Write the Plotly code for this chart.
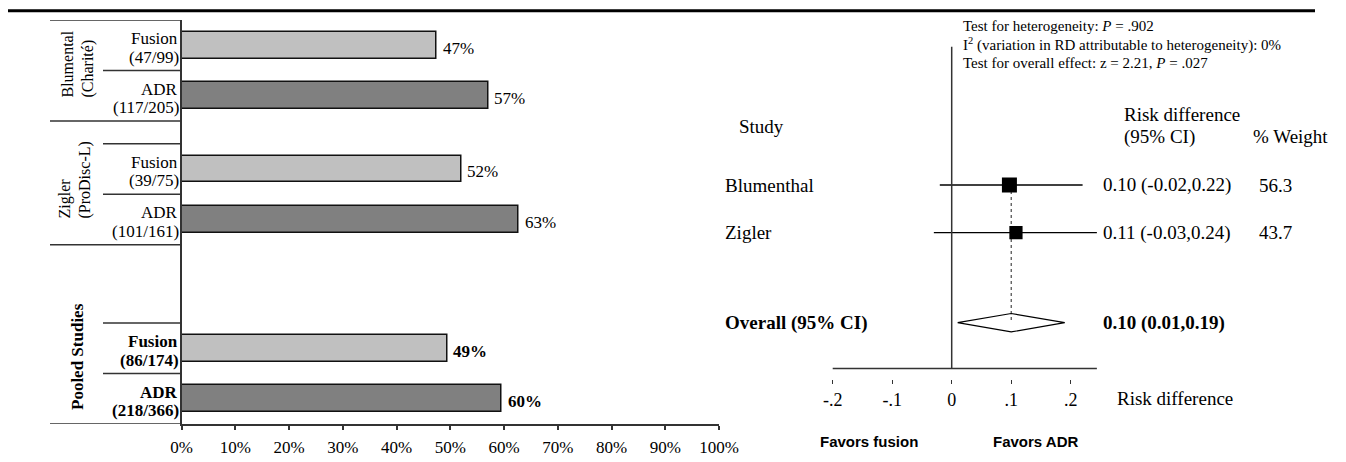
import plotly.graph_objects as go

# --------------------------------------------
# Data
# --------------------------------------------

# left panel: success rate per arm
arm_names = ["Fusion", "ADR", "Fusion", "ADR", "Fusion", "ADR"]
arm_counts = ["(47/99)", "(117/205)", "(39/75)", "(101/161)", "(86/174)", "(218/366)"]
arm_pct = [47.5, 57.1, 52.0, 62.7, 49.4, 59.6]
arm_pct_labels = ["47%", "57%", "52%", "63%", "49%", "60%"]
arm_pooled = [False, False, False, False, True, True]
pct_ticks = [0, 10, 20, 30, 40, 50, 60, 70, 80, 90, 100]
pct_tick_labels = ["0%", "10%", "20%", "30%", "40%", "50%", "60%", "70%", "80%", "90%", "100%"]

# right panel: forest plot
studies = ["Blumenthal", "Zigler"]
rd_est = [0.097, 0.108]
rd_lo = [-0.02, -0.03]
rd_hi = [0.22, 0.244]
rd_text = ["0.10 (-0.02,0.22)", "0.11 (-0.03,0.24)"]
weights = [56.3, 43.7]
weight_text = ["56.3", "43.7"]
overall_est = 0.10
overall_lo = 0.01
overall_hi = 0.19
overall_text = "0.10 (0.01,0.19)"
rd_ticks = [-0.2, -0.1, 0, 0.1, 0.2]
rd_tick_labels = ["-.2", "-.1", "0", ".1", ".2"]

# --------------------------------------------
# Layout helpers
# --------------------------------------------

W, H = 1346, 462
OFF = 8  # page body margin, the figure sits 8px in from the corner
SERIF = "Liberation Serif"
SANS = "Liberation Sans"
LINE = "#333333"


def px(x):
    # page pixel -> paper x
    return (x - OFF) / W


def py(y):
    # page pixel -> paper y
    return 1 - (y - OFF) / H


# slot positions on the left (reversed numeric axis, ~50 px per unit)
bar_pos = [0.5, 1.5, 2.95, 3.95, 6.5, 7.5]
dividers = [(0, 50), (1, 103), (2, 50), (2.45, 103), (3.45, 103),
            (4.45, 50), (6, 103), (7, 103), (8, 50)]

# forest rows (47.7 px per unit, row 1 at page y=185)
study_rows = [1, 2]
overall_row = 3.887
axis_row = 4.847
zero_top_row = -1.9
diamond_half = 0.193


def row_of(pix):
    return 1 + (pix - 185) / 47.7


fig = go.Figure()

# --------------------------------------------
# Left: bar chart
# --------------------------------------------

fig.add_trace(go.Bar(
    x=arm_pct,
    y=bar_pos,
    orientation="h",
    width=0.53,
    marker=dict(
        color=["#c0c0c0" if n == "Fusion" else "#808080" for n in arm_names],
        line=dict(color="#111111", width=1.5),
    ),
    xaxis="x", yaxis="y",
    hoverinfo="skip",
))

annotations = []
lab_font = dict(family=SERIF, size=17, color="black")
grp_font = dict(family=SERIF, size=16, color="black")
for name, cnt, pos, val, lab, bold in zip(arm_names, arm_counts, bar_pos,
                                          arm_pct, arm_pct_labels, arm_pooled):
    wrap = (lambda s: f"<b>{s}</b>") if bold else (lambda s: s)
    annotations.append(dict(x=px(180), xref="paper", y=pos - 0.13, yref="y",
                            text=wrap(name), xanchor="right", yanchor="middle",
                            showarrow=False, font=lab_font))
    annotations.append(dict(x=px(181), xref="paper", y=pos + 0.235, yref="y",
                            text=wrap(cnt), xanchor="right", yanchor="middle",
                            showarrow=False, font=lab_font))
    annotations.append(dict(x=val, xref="x", y=pos, yref="y", text=wrap(lab),
                            xanchor="left", yanchor="middle", xshift=4, yshift=-3,
                            showarrow=False, font=lab_font))

# group labels (rotated)
annotations.append(dict(x=px(78), y=py(100), xref="paper", yref="paper",
                        text="Blumental<br>(Charité)", textangle=-90, align="left",
                        xanchor="center", yanchor="bottom", showarrow=False, font=grp_font))
annotations.append(dict(x=px(75), y=py(221), xref="paper", yref="paper",
                        text="Zigler<br>(ProDisc-L)", textangle=-90, align="left",
                        xanchor="center", yanchor="bottom", showarrow=False, font=grp_font))
annotations.append(dict(x=px(77), y=py(357), xref="paper", yref="paper",
                        text="<b>Pooled Studies</b>", textangle=-90,
                        xanchor="center", yanchor="middle", showarrow=False, font=lab_font))

shapes = []
for ypos, x_start in dividers:
    shapes.append(dict(type="line", xref="paper", yref="y",
                       x0=px(x_start), x1=px(181.5), y0=ypos, y1=ypos,
                       line=dict(color=LINE, width=1.5)))

# top rule
shapes.append(dict(type="line", xref="paper", yref="paper",
                   x0=px(8), x1=px(1315), y0=py(10.7), y1=py(10.7),
                   line=dict(color="black", width=3)))

# --------------------------------------------
# Right: forest plot
# --------------------------------------------

# dotted line at pooled estimate
fig.add_trace(go.Scatter(
    x=[overall_est, overall_est], y=[study_rows[0], overall_row],
    mode="lines", line=dict(color="#222222", width=1, dash="dot"),
    xaxis="x2", yaxis="y2", hoverinfo="skip",
))

for lo, hi, row in zip(rd_lo, rd_hi, study_rows):
    fig.add_trace(go.Scatter(
        x=[lo, hi], y=[row, row], mode="lines",
        line=dict(color="black", width=1.3),
        xaxis="x2", yaxis="y2", hoverinfo="skip",
    ))

fig.add_trace(go.Scatter(
    x=rd_est, y=study_rows, mode="markers",
    marker=dict(symbol="square", color="black", opacity=1,
                size=[2 * w ** 0.5 for w in weights], line=dict(width=0)),
    xaxis="x2", yaxis="y2", hoverinfo="skip",
))

fig.add_trace(go.Scatter(
    x=[overall_lo, overall_est, overall_hi, overall_est, overall_lo],
    y=[overall_row, overall_row - diamond_half, overall_row,
       overall_row + diamond_half, overall_row],
    mode="lines", fill="toself", fillcolor="rgba(255,255,255,0)",
    line=dict(color="black", width=1.2),
    xaxis="x2", yaxis="y2", hoverinfo="skip",
))

# zero line and axis line
shapes.append(dict(type="line", xref="x2", yref="y2", x0=0, x1=0,
                   y0=zero_top_row, y1=axis_row, line=dict(color=LINE, width=1.5)))
shapes.append(dict(type="line", xref="x2", yref="y2", x0=rd_ticks[0], x1=max(rd_hi),
                   y0=axis_row, y1=axis_row, line=dict(color=LINE, width=1.5)))

hdr_font = dict(family=SERIF, size=15, color="black")
txt_font = dict(family=SERIF, size=19, color="black")
for text, yy in [("Test for heterogeneity: <i>P</i> = .902", 25.7),
                 ("I<sup>2</sup> (variation in RD attributable to heterogeneity): 0%", 44.3),
                 ("Test for overall effect: z = 2.21, <i>P</i> = .027", 62.7)]:
    annotations.append(dict(x=px(961), y=py(yy), xref="paper", yref="paper", text=text,
                            xanchor="left", yanchor="middle", showarrow=False, font=hdr_font))

for text, xx, yy in [("Study", 736.7, 126), ("Risk difference", 1121.7, 114),
                     ("(95% CI)", 1121.7, 136.7), ("% Weight", 1250.7, 136.7),
                     ("Risk difference", 1115, 398)]:
    annotations.append(dict(x=px(xx), y=py(yy), xref="paper", yref="paper", text=text,
                            xanchor="left", yanchor="middle", showarrow=False, font=txt_font))

for name, ci, wt, row in zip(studies, rd_text, weight_text, study_rows):
    for text, xx in [(name, 723), (ci, 1100.5), (wt, 1256.7)]:
        annotations.append(dict(x=px(xx), y=row, xref="paper", yref="y2", text=text,
                                xanchor="left", yanchor="middle", showarrow=False,
                                font=txt_font))

for text, xx in [("<b>Overall (95% CI)</b>", 722.7), (f"<b>{overall_text}</b>", 1100.5)]:
    annotations.append(dict(x=px(xx), y=overall_row, xref="paper", yref="y2", text=text,
                            xanchor="left", yanchor="middle", showarrow=False, font=txt_font))

for text, xx in [("<b>Favors fusion</b>", 869.5), ("<b>Favors ADR</b>", 1035.8)]:
    annotations.append(dict(x=px(xx), y=py(441.7), xref="paper", yref="paper", text=text,
                            xanchor="center", yanchor="middle", showarrow=False,
                            font=dict(family=SANS, size=15, color="black")))

# --------------------------------------------
# Axes and layout
# --------------------------------------------

X2_START = 0.54
x2_lo = (X2_START * W + OFF - 951.7) / 595
x2_hi = (W + OFF - 951.7) / 595

fig.update_layout(
    width=W, height=H,
    margin=dict(l=0, r=0, t=0, b=0, autoexpand=False),
    paper_bgcolor="white", plot_bgcolor="rgba(0,0,0,0)",
    showlegend=False,
    bargap=0,
    xaxis=dict(domain=[px(181.5), px(719)], range=[0, 100], anchor="y",
               tickvals=pct_ticks, ticktext=pct_tick_labels,
               ticks="outside", ticklen=4, tickwidth=1.5, tickcolor=LINE,
               showline=True, linecolor=LINE, linewidth=1.5, automargin=False,
               showgrid=False, zeroline=False, ticklabelstandoff=3,
               tickfont=dict(family=SERIF, size=17, color="black")),
    yaxis=dict(domain=[py(424), py(20)], range=[8, 0], anchor="x",
               showline=True, linecolor=LINE, linewidth=2, automargin=False,
               showticklabels=False, ticks="", showgrid=False, zeroline=False),
    xaxis2=dict(domain=[X2_START, 1.0], range=[x2_lo, x2_hi], anchor="y2",
                tickvals=rd_ticks, ticktext=rd_tick_labels, automargin=False,
                ticks="outside", ticklen=4, tickwidth=1.2, tickcolor=LINE,
                showline=False, showgrid=False, zeroline=False, ticklabelstandoff=0,
                tickfont=dict(family=SERIF, size=18, color="black")),
    yaxis2=dict(domain=[py(379), 1], range=[row_of(379), row_of(OFF)], anchor="x2",
                visible=False, automargin=False),
    shapes=shapes,
    annotations=annotations,
)

fig.write_html("out.html")
